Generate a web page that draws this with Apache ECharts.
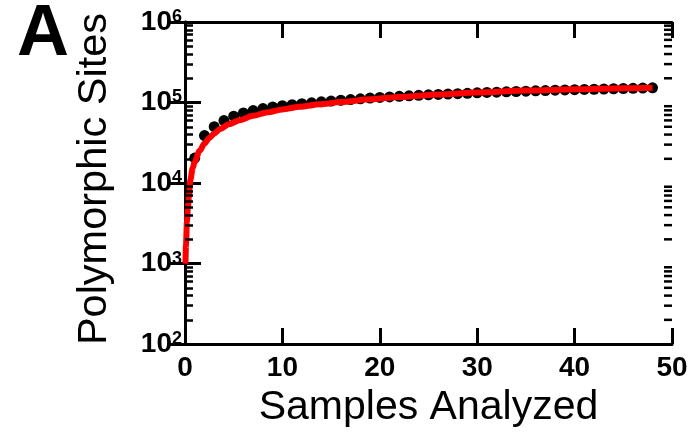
<!DOCTYPE html>
<html>
<head>
<meta charset="utf-8">
<script src="https://cdn.jsdelivr.net/npm/echarts@6/dist/echarts.min.js"></script>
<style>
  html, body { margin: 0; padding: 0; background: #fff; }
  #chart { width: 692px; height: 433px; }
</style>
</head>
<body>
<div id="chart"></div>
<script>
// Number of samples analyzed (x) and observed polymorphic sites (black dots)
const sampleCounts = [
  1, 2, 3, 4, 5, 6, 7, 8, 9, 10, 11, 12, 13, 14, 15, 16,
  17, 18, 19, 20, 21, 22, 23, 24, 25, 26, 27, 28, 29, 30, 31, 32,
  33, 34, 35, 36, 37, 38, 39, 40, 41, 42, 43, 44, 45, 46, 47, 48
];
const observedSites = [
  20400, 38900, 50100, 59600, 67600, 74100, 79400, 84100, 88100, 91200, 93800, 96600, 99300, 101900, 104200, 106700,
  108900, 111200, 113500, 115600, 117500, 119400, 121100, 122700, 124500, 125900, 127400, 128800, 130300, 131800, 133400, 134600,
  135800, 137100, 138400, 139600, 140900, 142200, 143200, 144200, 145200, 146200, 147200, 148300, 149300, 150300, 151400, 152400
];

// Fitted accumulation curve (red line)
const fitSamples = [0.05, 0.1, 0.2, 0.3, 0.4, 0.55, 0.8, 1.0, 1.5, 2.0, 2.5, 3.0, 3.6, 4.5, 5.6, 7.0, 8.5, 10, 11.8, 13.8, 16, 19, 22, 26, 30, 35, 40, 45, 48];
const fitSites = [1000, 1700, 3300, 5000, 6800, 11000, 15500, 18500, 25100, 30900, 36300, 41200, 46800, 53700, 60300, 68400, 75900, 82200, 88700, 95100, 101200, 109600, 117500, 125900, 133400, 140600, 146200, 150700, 153100];

// Axis ticks
const xTicks = [0, 10, 20, 30, 40, 50];
const yTickExponents = [2, 3, 4, 5, 6];

const FONT = '"Liberation Sans", Arial, Helvetica, sans-serif';

const xMin = xTicks[0], xMax = xTicks[xTicks.length - 1];
const yMin = Math.pow(10, yTickExponents[0]);
const yMax = Math.pow(10, yTickExponents[yTickExponents.length - 1]);

// log-axis minor tick values (2..9 x 10^k)
const minorTickValues = [];
for (let k = yTickExponents[0]; k < yTickExponents[yTickExponents.length - 1]; k++) {
  for (let m = 2; m <= 9; m++) minorTickValues.push(m * Math.pow(10, k));
}
// minor tick length, in x-axis units (about 8 px)
const minorLen = 0.82;

const frameLine = { lineStyle: { color: '#000', width: 3 } };
const majorTick = { inside: true, length: 16, lineStyle: { color: '#000', width: 3 } };
const minorStyle = { color: '#000', width: 2.5, type: 'solid' };

const panelLabel = {
  id: 'panel', type: 'text', left: 17, top: -1,
  style: { text: 'A', font: 'bold 72px ' + FONT, fill: '#000' }
};

const chart = echarts.init(document.getElementById('chart'), null, { renderer: 'canvas' });

chart.setOption({
  animation: false,
  backgroundColor: '#fff',
  grid: { left: 185, right: 20, top: 22, bottom: 86 },
  graphic: [panelLabel],
  xAxis: [{
    type: 'value', position: 'bottom',
    min: xMin, max: xMax, interval: 10,
    axisLine: frameLine, axisTick: majorTick,
    splitLine: { show: false },
    axisLabel: { color: '#000', fontSize: 28, fontWeight: 'bold', fontFamily: FONT, margin: 10 },
    name: 'Samples Analyzed', nameLocation: 'middle', nameGap: 40,
    nameTextStyle: { color: '#000', fontSize: 41, fontFamily: FONT }
  }, {
    type: 'value', position: 'top',
    min: xMin, max: xMax, interval: 10,
    axisLine: frameLine, axisTick: majorTick,
    splitLine: { show: false }, axisLabel: { show: false }
  }],
  yAxis: [{
    type: 'log', logBase: 10, position: 'left',
    min: yMin, max: yMax,
    axisLine: frameLine, axisTick: majorTick,
    minorTick: { show: false }, splitLine: { show: false }, minorSplitLine: { show: false },
    axisLabel: {
      margin: 3,
      formatter: v => '{b|10}{s|' + Math.round(Math.log10(v)) + '}',
      rich: {
        b: { fontSize: 28, fontWeight: 'bold', fontFamily: FONT, color: '#000', lineHeight: 28 },
        s: { fontSize: 18, fontWeight: 'bold', fontFamily: FONT, color: '#000', lineHeight: 18, verticalAlign: 'top' }
      }
    },
    name: 'Polymorphic Sites', nameLocation: 'middle', nameGap: 69, nameRotate: 90,
    nameTextStyle: { color: '#000', fontSize: 41.5, fontFamily: FONT, padding: [0, 0, 0, 8] }
  }, {
    type: 'log', logBase: 10, position: 'right',
    min: yMin, max: yMax,
    axisLine: frameLine, axisTick: majorTick,
    minorTick: { show: false }, splitLine: { show: false }, minorSplitLine: { show: false },
    axisLabel: { show: false }
  }],
  series: [{
    type: 'scatter',
    symbol: 'circle',
    symbolSize: 11,
    z: 2,
    itemStyle: { color: '#000', opacity: 1 },
    data: sampleCounts.map((n, i) => [n, observedSites[i]]),
    // minor ticks along the left frame
    markLine: {
      silent: true,
      symbol: ['none', 'none'],
      label: { show: false },
      lineStyle: minorStyle,
      emphasis: { disabled: true },
      data: minorTickValues.map(v => [{ coord: [xMin, v] }, { coord: [xMin + minorLen, v] }])
    }
  }, {
    type: 'line',
    z: 3,
    showSymbol: false,
    smooth: 0.3,
    smoothMonotone: 'x',
    lineStyle: { color: '#ff0000', width: 6 },
    data: fitSamples.map((n, i) => [n, fitSites[i]])
  }]
});

// Minor ticks along the right frame, placed through the axes' own scales
const xRight = chart.convertToPixel({ xAxisIndex: 0 }, xMax);
const tickMarks = minorTickValues.map((v, i) => {
  const y = chart.convertToPixel({ yAxisIndex: 0 }, v);
  return {
    id: 'mr' + i, type: 'line', z: 10,
    shape: { x1: xRight - 8, y1: y, x2: xRight, y2: y },
    style: { stroke: '#000', lineWidth: 2.5 }
  };
});
chart.setOption({ graphic: [panelLabel].concat(tickMarks) });
</script>
</body>
</html>
